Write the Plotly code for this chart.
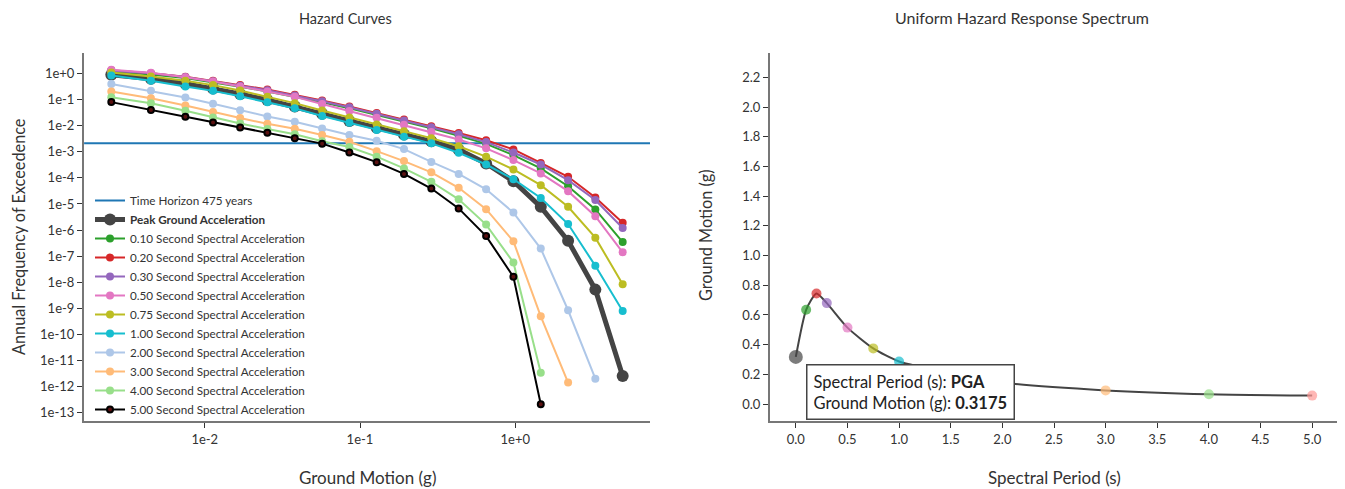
import plotly.graph_objects as go

# ---------------- Data ----------------
ground_motion = [0.0025, 0.0045, 0.0075, 0.0113, 0.0169, 0.0253, 0.038, 0.057, 0.0854,
                 0.128, 0.192, 0.288, 0.432, 0.649, 0.973, 1.46, 2.19, 3.28, 4.92]

series_names = ["<b>Peak Ground Acceleration</b>",
                "0.10 Second Spectral Acceleration",
                "0.20 Second Spectral Acceleration",
                "0.30 Second Spectral Acceleration",
                "0.50 Second Spectral Acceleration",
                "0.75 Second Spectral Acceleration",
                "1.00 Second Spectral Acceleration",
                "2.00 Second Spectral Acceleration",
                "3.00 Second Spectral Acceleration",
                "4.00 Second Spectral Acceleration",
                "5.00 Second Spectral Acceleration"]

afe_pga = [8.91e-1, 6.17e-1, 3.98e-1, 2.63e-1, 1.62e-1, 9.55e-2, 5.37e-2, 2.82e-2, 1.51e-2, 8.32e-3,
           4.57e-3, 2.51e-3, 1.20e-3, 3.55e-4, 7.41e-5, 7.76e-6, 3.89e-7, 5.25e-9, 2.57e-12]
afe_sa010 = [1.17, 9.12e-1, 6.61e-1, 4.57e-1, 3.09e-1, 2.04e-1, 1.29e-1, 7.76e-2, 4.57e-2, 2.57e-2,
             1.45e-2, 7.94e-3, 4.07e-3, 2.00e-3, 7.41e-4, 2.29e-4, 4.79e-5, 6.17e-6, 3.47e-7]
afe_sa020 = [1.32, 1.02, 7.41e-1, 5.25e-1, 3.55e-1, 2.40e-1, 1.51e-1, 9.12e-2, 5.37e-2, 3.02e-2,
             1.70e-2, 9.55e-3, 5.25e-3, 2.75e-3, 1.23e-3, 3.72e-4, 1.10e-4, 1.78e-5, 1.91e-6]
afe_sa030 = [1.26, 1.00, 7.24e-1, 5.01e-1, 3.39e-1, 2.24e-1, 1.41e-1, 8.51e-2, 5.01e-2, 2.82e-2,
             1.58e-2, 8.71e-3, 4.68e-3, 2.34e-3, 9.33e-4, 3.24e-4, 8.13e-5, 1.41e-5, 1.20e-6]
afe_sa050 = [1.38, 1.05, 7.08e-1, 4.90e-1, 3.16e-1, 2.04e-1, 1.26e-1, 6.76e-2, 3.63e-2, 2.00e-2,
             1.07e-2, 5.75e-3, 2.95e-3, 1.35e-3, 4.79e-4, 1.48e-4, 3.09e-5, 3.39e-6, 1.41e-7]
afe_sa075 = [1.07, 7.59e-1, 5.25e-1, 3.55e-1, 2.19e-1, 1.26e-1, 7.24e-2, 3.80e-2, 2.04e-2, 1.10e-2,
             6.03e-3, 3.31e-3, 1.62e-3, 6.46e-4, 2.09e-4, 5.25e-5, 7.76e-6, 5.13e-7, 8.51e-9]
afe_sa100 = [8.32e-1, 5.25e-1, 3.16e-1, 2.14e-1, 1.32e-1, 7.76e-2, 4.57e-2, 2.34e-2, 1.29e-2, 6.76e-3,
             3.72e-3, 2.09e-3, 9.12e-4, 3.24e-4, 8.91e-5, 1.70e-5, 1.70e-6, 4.27e-8, 7.94e-10]
afe_sa200 = [3.89e-1, 2.14e-1, 1.20e-1, 6.92e-2, 3.89e-2, 2.24e-2, 1.41e-2, 7.76e-3, 4.37e-3, 2.63e-3,
             1.26e-3, 4.07e-4, 1.41e-4, 3.63e-5, 4.68e-6, 1.95e-7, 8.51e-10, 2.04e-12]
afe_sa300 = [2.04e-1, 1.12e-1, 5.89e-2, 3.31e-2, 1.95e-2, 1.17e-2, 7.59e-3, 4.37e-3, 2.40e-3, 1.05e-3,
             4.37e-4, 1.62e-4, 4.17e-5, 6.31e-6, 3.72e-7, 5.01e-10, 1.45e-12]
afe_sa400 = [1.23e-1, 7.24e-2, 3.72e-2, 2.04e-2, 1.20e-2, 7.41e-3, 4.68e-3, 2.51e-3, 1.51e-3, 6.46e-4,
             2.29e-4, 7.08e-5, 1.51e-5, 1.62e-6, 5.75e-8, 3.47e-12]
afe_sa500 = [7.94e-2, 3.98e-2, 2.19e-2, 1.32e-2, 8.51e-3, 5.37e-3, 3.31e-3, 2.04e-3, 9.33e-4, 3.98e-4,
             1.41e-4, 3.89e-5, 6.76e-6, 5.89e-7, 1.62e-8, 2.14e-13]

series_values = [afe_pga, afe_sa010, afe_sa020, afe_sa030, afe_sa050, afe_sa075,
                 afe_sa100, afe_sa200, afe_sa300, afe_sa400, afe_sa500]
series_colors = ["#444444", "#2ca02c", "#d62728", "#9467bd", "#e377c2", "#bcbd22",
                 "#17becf", "#aec7e8", "#ffbb78", "#98df8a", "#000000"]

time_horizon_years = 475
time_horizon_label = "Time Horizon 475 years"
gm_axis_range = [0.00167, 7.4]

# Uniform hazard response spectrum
spectral_period = [0.0, 0.1, 0.2, 0.3, 0.5, 0.75, 1.0, 2.0, 3.0, 4.0, 5.0]
uhrs_ground_motion = [0.3175, 0.635, 0.745, 0.68, 0.515, 0.375, 0.287, 0.145, 0.092, 0.066, 0.057]
uhrs_colors = ["#444444", "#2ca02c", "#d62728", "#9467bd", "#e377c2", "#bcbd22",
               "#17becf", "#aec7e8", "#ffbb78", "#98df8a", "#ff9896"]
uhrs_sizes = [14, 10, 10, 10, 10, 10, 10, 10, 10, 10, 10]

y_tick_vals = [1e0, 1e-1, 1e-2, 1e-3, 1e-4, 1e-5, 1e-6, 1e-7, 1e-8, 1e-9, 1e-10, 1e-11, 1e-12, 1e-13]
y_tick_text = ["1e+0", "1e-1", "1e-2", "1e-3", "1e-4", "1e-5", "1e-6", "1e-7", "1e-8",
               "1e-9", "1e-10", "1e-11", "1e-12", "1e-13"]
x_tick_vals = [1e-2, 1e-1, 1e0]
x_tick_text = ["1e-2", "1e-1", "1e+0"]

# ---------------- Figure ----------------
OFF = 8            # page body margin
W, H = 1345 - OFF, 489 - OFF
FONT = "Lato, 'Source Sans Pro', sans-serif"
TXT = "#333333"

fig = go.Figure()

fig.add_trace(go.Scatter(
    x=gm_axis_range, y=[1.0 / time_horizon_years] * 2, mode="lines",
    line=dict(color="#1f77b4", width=2), name=time_horizon_label,
    xaxis="x", yaxis="y", hoverinfo="skip"))

for name, vals, col in zip(series_names, series_values, series_colors):
    is_pga = name.startswith("<b>")
    is_black = col == "#000000"
    fig.add_trace(go.Scatter(
        x=ground_motion[:len(vals)], y=vals, mode="lines+markers", name=name,
        line=dict(color=col, width=5 if is_pga else 2),
        marker=dict(color="#5a1010" if is_black else col,
                    size=12 if is_pga else (6 if is_black else 8),
                    line=dict(width=2 if is_black else 0, color=col)),
        xaxis="x", yaxis="y"))

fig.add_trace(go.Scatter(
    x=spectral_period, y=uhrs_ground_motion, mode="lines+markers",
    line=dict(color="#444444", width=2, shape="spline", smoothing=0.6),
    marker=dict(color=uhrs_colors, size=uhrs_sizes, line=dict(width=0)),
    xaxis="x2", yaxis="y2", showlegend=False))


def px_x(p):
    return (p - OFF) / W


def px_y(p):
    return 1 - (p - OFF) / H


axis_common = dict(showgrid=False, zeroline=False, showline=True, linecolor="#777777",
                   linewidth=2, ticks="outside", ticklen=5, tickcolor="#333333",
                   tickfont=dict(family=FONT, size=13, color=TXT))

fig.update_layout(
    width=W, height=H, margin=dict(l=0, r=0, t=0, b=0),
    paper_bgcolor="white", plot_bgcolor="white",
    font=dict(family=FONT, color=TXT),
    xaxis=dict(domain=[px_x(84), px_x(650)], type="log",
               range=[-2.778, 0.868], tickvals=x_tick_vals, ticktext=x_tick_text,
               anchor="y", **axis_common),
    yaxis=dict(domain=[px_y(421), px_y(53)], type="log",
               range=[-13.31, 0.78], tickvals=y_tick_vals, ticktext=y_tick_text,
               anchor="x", **axis_common),
    xaxis2=dict(domain=[px_x(770), px_x(1338)], range=[-0.25, 5.25],
                tickvals=[0, 0.5, 1, 1.5, 2, 2.5, 3, 3.5, 4, 4.5, 5], tickformat=".1f",
                anchor="y2", **axis_common),
    yaxis2=dict(domain=[px_y(421), px_y(53)], range=[-0.114, 2.364],
                tickvals=[0, 0.2, 0.4, 0.6, 0.8, 1.0, 1.2, 1.4, 1.6, 1.8, 2.0, 2.2],
                tickformat=".1f", anchor="x2", **axis_common),
    legend=dict(x=px_x(90), y=px_y(424), xanchor="left", yanchor="bottom",
                bgcolor="rgba(0,0,0,0)", font=dict(family=FONT, size=11.7, color=TXT),
                itemwidth=30, tracegroupgap=0),
    hovermode=False,
)


def label(text, x, y, size, angle=0, yanchor="middle"):
    return dict(text=text, x=px_x(x), y=px_y(y), xref="paper", yref="paper",
                xanchor="center", yanchor=yanchor, showarrow=False, textangle=angle,
                font=dict(size=size, color=TXT, family=FONT))


annotations = [
    label("Hazard Curves", 345, 8, 14.5, yanchor="top"),
    label("Uniform Hazard Response Spectrum", 1022, 6, 16, yanchor="top"),
    label("Ground Motion (g)", 367, 477, 17),
    label("Spectral Period (s)", 1054, 477, 17),
    label("Annual Frequency of Exceedence", 18, 237, 16.3, -90),
    label("Ground Motion (g)", 705, 235, 16.3, -90),
    dict(text="Spectral Period (s): <b>PGA</b><br>Ground Motion (g): <b>0.3175</b>",
         x=px_x(806), y=px_y(364), xref="paper", yref="paper", xanchor="left",
         yanchor="top", align="left", showarrow=False, bgcolor="white",
         bordercolor="#444444", borderwidth=1.5, borderpad=6,
         font=dict(size=16.5, color="#222222", family=FONT)),
]
fig.update_layout(annotations=annotations)

fig.write_html("out.html")
